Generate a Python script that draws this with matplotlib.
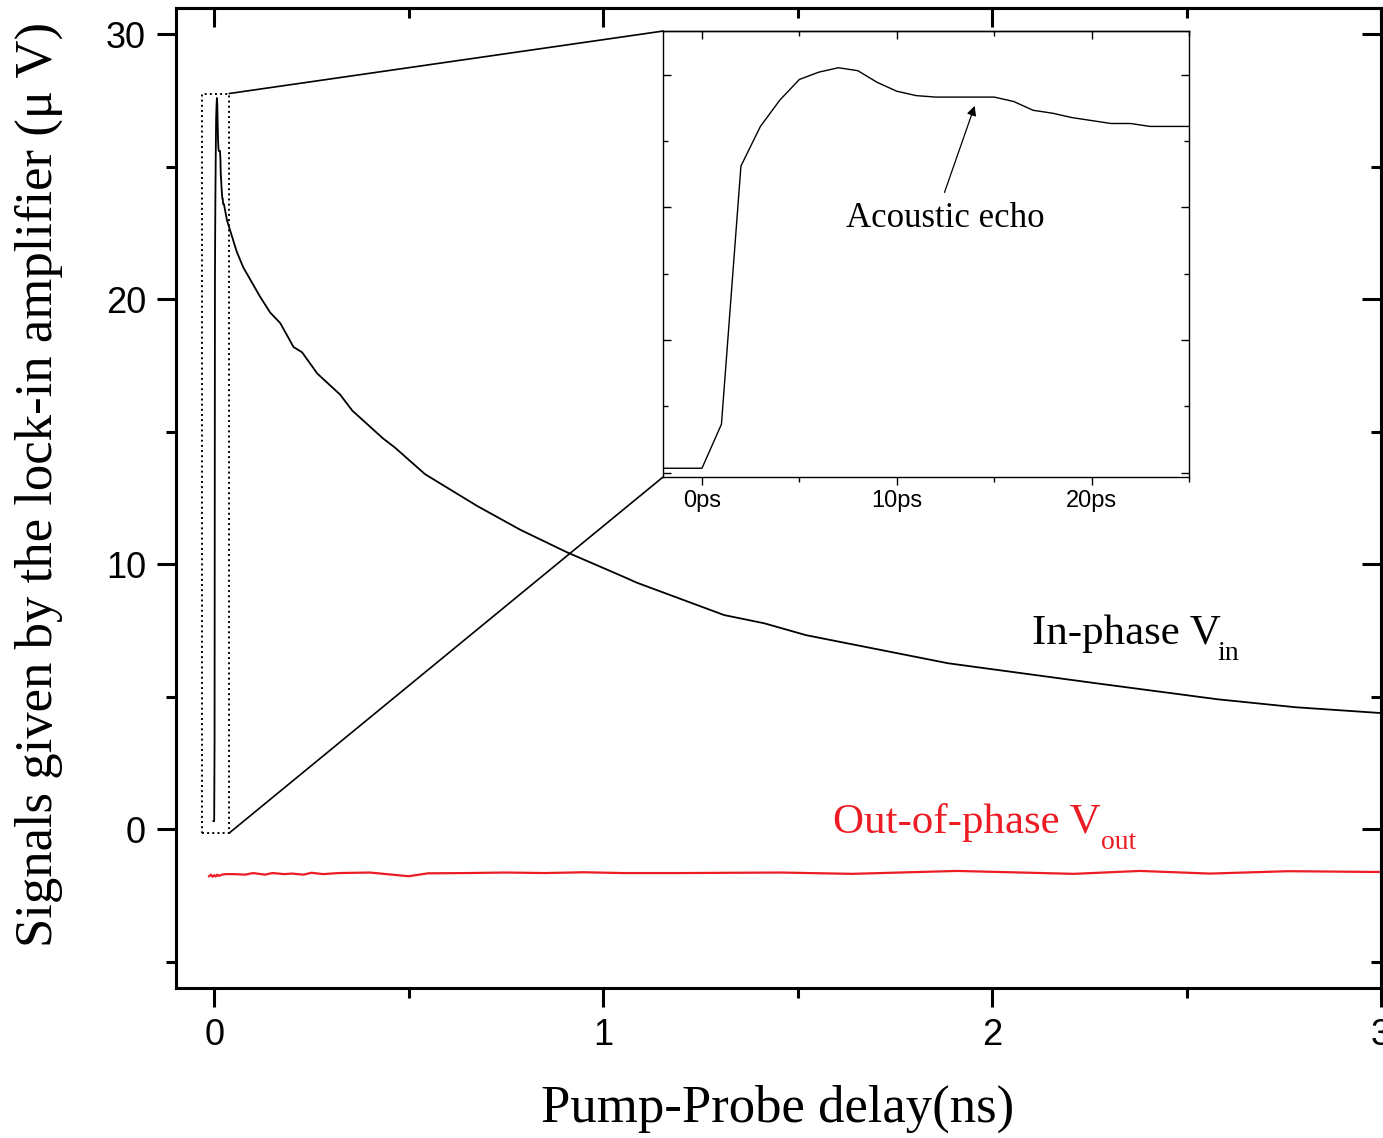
import numpy as np
import matplotlib
matplotlib.use('Agg')
import matplotlib.pyplot as plt
from matplotlib.ticker import MultipleLocator
from matplotlib.patches import Rectangle, ConnectionPatch

# inset: first 25 ps of the in-phase signal
t_ps = [-2, -1, 0, 1, 2, 3, 4, 5, 6, 7, 8, 9, 10, 11, 12, 13, 14, 15, 16, 17, 18,
        19, 20, 21, 22, 23, 24, 25]
v_ps = [0.3, 0.3, 0.3, 3.3, 20.9, 23.6, 25.4, 26.8, 27.3, 27.6, 27.4, 26.6, 26.0,
        25.7, 25.6, 25.6, 25.6, 25.6, 25.3, 24.7, 24.5, 24.2, 24.0, 23.8, 23.8,
        23.6, 23.6, 23.6]

# in-phase signal after 25 ps (ns)
t_in = [0.033, 0.058, 0.075, 0.118, 0.144, 0.170, 0.204, 0.226, 0.265, 0.324, 0.355,
        0.434, 0.465, 0.542, 0.676, 0.787, 0.907, 1.044, 1.087, 1.311, 1.414, 1.522,
        1.887, 2.27, 2.58, 2.78, 3.0]
v_in = [22.98, 21.8, 21.2, 20.1, 19.5, 19.1, 18.2, 18.0, 17.2, 16.4, 15.8, 14.75, 14.4,
        13.4, 12.2, 11.3, 10.45, 9.58, 9.3, 8.08, 7.77, 7.32, 6.26, 5.5, 4.9, 4.6, 4.38]

# out-of-phase signal (ns)
t_out = [-0.013, -0.008, -0.004, 0.0, 0.004, 0.008, 0.012, 0.02, 0.03, 0.05, 0.08, 0.1,
         0.13, 0.15, 0.18, 0.2, 0.23, 0.25, 0.28, 0.32, 0.4, 0.5, 0.55, 0.65, 0.75,
         0.85, 0.95, 1.05, 1.2, 1.455, 1.64, 1.91, 2.21, 2.38, 2.56, 2.76, 3.0]
v_out = [-1.78, -1.72, -1.8, -1.74, -1.79, -1.72, -1.77, -1.72, -1.7, -1.7, -1.72, -1.66,
         -1.72, -1.66, -1.7, -1.68, -1.72, -1.65, -1.7, -1.66, -1.64, -1.78, -1.67,
         -1.66, -1.64, -1.66, -1.63, -1.66, -1.66, -1.64, -1.69, -1.58, -1.69, -1.58,
         -1.68, -1.59, -1.62]

t_main = np.concatenate([np.array(t_ps) / 1000.0, t_in])
v_main = np.concatenate([v_ps, v_in])

serif = 'Liberation Serif'
sans = 'Liberation Sans'
red = '#ec1c24'

fig = plt.figure(figsize=(13.83, 11.38), dpi=100)
ax = fig.add_axes([0.1273, 0.1318, 0.8713, 0.8612])
ax.plot(t_main, v_main, color='black', lw=1.3)
ax.plot(t_out, v_out, color=red, lw=1.6)
ax.set_xlim(-0.098, 3.0)
ax.set_ylim(-6, 31)

for s in ax.spines.values():
    s.set_linewidth(2.2)
ax.xaxis.set_major_locator(MultipleLocator(1))
ax.xaxis.set_minor_locator(MultipleLocator(0.5))
ax.yaxis.set_major_locator(MultipleLocator(10))
ax.yaxis.set_minor_locator(MultipleLocator(5))
ax.tick_params(which='major', direction='out', length=13.7, width=2.2, pad=8,
               labelsize=26)
ax.tick_params(which='minor', direction='out', length=7.2, width=2.2)
for lab in ax.get_xticklabels() + ax.get_yticklabels():
    lab.set_fontfamily(sans)

top = ax.secondary_xaxis('top')
top.xaxis.set_major_locator(MultipleLocator(1))
top.xaxis.set_minor_locator(MultipleLocator(0.5))
top.tick_params(which='major', direction='in', length=13.7, width=2.2, labeltop=False)
top.tick_params(which='minor', direction='in', length=7.2, width=2.2)
right = ax.secondary_yaxis('right')
right.yaxis.set_major_locator(MultipleLocator(10))
right.yaxis.set_minor_locator(MultipleLocator(5))
right.tick_params(which='major', direction='in', length=13.7, width=2.2, labelright=False)
right.tick_params(which='minor', direction='in', length=7.2, width=2.2)
for s in list(top.spines.values()) + list(right.spines.values()):
    s.set_linewidth(2.2)

fig.text(0.5625, 0.026, 'Pump-Probe delay(ns)', family=serif, fontsize=38,
         ha='center', va='center')
fig.text(0.028, 0.574, 'Signals given by the lock-in amplifier (\u03bc V)', family=serif,
         fontsize=38, rotation=90, ha='center', va='center')

ax.text(2.103, 7.0, 'In-phase V', family=serif, fontsize=31, color='black',
        ha='left', va='baseline')
ax.text(2.58, 6.4, 'in', family=serif, fontsize=20, color='black',
        ha='left', va='baseline')
ax.text(1.591, -0.15, 'Out-of-phase V', family=serif, fontsize=31, color=red,
        ha='left', va='baseline')
ax.text(2.28, -0.75, 'out', family=serif, fontsize=20, color=red,
        ha='left', va='baseline')

# zoom box
rx0, rx1, ry0, ry1 = -0.031, 0.0386, -0.15, 27.77
ax.add_patch(Rectangle((rx0, ry0), rx1 - rx0, ry1 - ry0, fill=False,
                       linestyle=':', lw=1.4, edgecolor='black'))

# inset
axi = fig.add_axes([0.4794, 0.5808, 0.3803, 0.3919])
axi.plot(t_ps, v_ps, color='black', lw=1.0)
axi.set_xlim(-2, 25)
axi.set_ylim(-0.3, 30.1)
for s in axi.spines.values():
    s.set_linewidth(1.0)
axi.xaxis.set_major_locator(MultipleLocator(10))
axi.xaxis.set_minor_locator(MultipleLocator(5))
axi.yaxis.set_major_locator(MultipleLocator(9.04))
axi.yaxis.set_minor_locator(MultipleLocator(4.52))
axi.set_xticks([0, 10, 20])
axi.set_xticklabels(['0ps', '10ps', '20ps'], family=sans, fontsize=17)
axi.tick_params(axis='x', which='major', direction='out', length=6, width=1, pad=3)
axi.tick_params(axis='x', which='minor', direction='out', length=3.5, width=1)
axi.tick_params(axis='y', which='major', direction='in', length=6, width=1,
                left=True, right=True, labelleft=False)
axi.tick_params(axis='y', which='minor', direction='in', length=3.5, width=1,
                left=True, right=True)
itop = axi.secondary_xaxis('top')
itop.xaxis.set_major_locator(MultipleLocator(10))
itop.xaxis.set_minor_locator(MultipleLocator(5))
itop.tick_params(which='major', direction='in', length=6, width=1, labeltop=False)
itop.tick_params(which='minor', direction='in', length=3.5, width=1)
for s in itop.spines.values():
    s.set_linewidth(1.0)

axi.annotate('', xy=(14.0, 25.0), xytext=(12.45, 19.1),
             arrowprops=dict(arrowstyle='-|>', color='black', lw=0.9,
                             mutation_scale=14, shrinkA=0, shrinkB=0))
axi.text(12.5, 17.3, 'Acoustic echo', family=serif, fontsize=25,
         ha='center', va='center')

for ya, yb in [(ry1, 1), (ry0, 0)]:
    con = ConnectionPatch(xyA=(rx1, ya), coordsA=ax.transData,
                          xyB=(0, yb), coordsB=axi.transAxes,
                          color='black', lw=1.2)
    fig.add_artist(con)

fig.savefig('out.png', dpi=100)
